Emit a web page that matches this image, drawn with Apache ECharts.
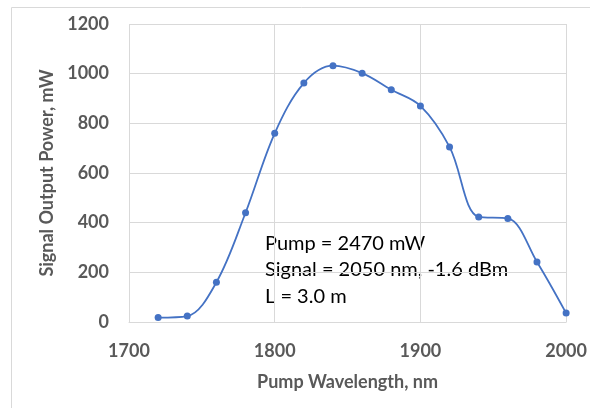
<!DOCTYPE html>
<html>
<head>
<meta charset="utf-8">
<script src="https://cdn.jsdelivr.net/npm/echarts@6/dist/echarts.min.js"></script>
<style>
  html, body { margin: 0; padding: 0; background: #fff; }
  #chart { width: 590px; height: 408px; }
</style>
</head>
<body>
<div id="chart"></div>
<script>
const wavelengths = [1720, 1740, 1760, 1780, 1800, 1820, 1840, 1860, 1880, 1900, 1920, 1940, 1960, 1980, 2000];
const outputPower = [18, 24, 160, 440, 760, 962, 1032, 1002, 935, 870, 705, 423, 417, 242, 36];
const noteLines = ['Pump = 2470 mW', 'Signal = 2050 nm, -1.6 dBm', 'L = 3.0 m'];

const chart = echarts.init(document.getElementById('chart'));
const font = 'Lato, "Open Sans", sans-serif';
const grey = '#595959';

const option = {
  animation: false,
  grid: { left: 129, right: 20, top: 24, bottom: 86 },
  xAxis: {
    type: 'value',
    min: 1700, max: 2000, interval: 100,
    name: 'Pump Wavelength, nm',
    nameLocation: 'middle',
    nameGap: 51,
    nameTextStyle: { fontFamily: font, fontSize: 18, fontWeight: 'bold', color: grey },
    axisLine: { show: true, lineStyle: { color: '#d9d9d9', width: 1 } },
    axisTick: { show: false },
    axisLabel: { margin: 20, fontFamily: font, fontSize: 18, fontWeight: 'bold', color: grey, formatter: v => String(v) },
    splitLine: { show: true, lineStyle: { color: '#d9d9d9', width: 1 } }
  },
  yAxis: {
    type: 'value',
    min: 0, max: 1200, interval: 200,
    name: 'Signal Output Power, mW',
    nameLocation: 'middle',
    nameGap: 73,
    nameTextStyle: { fontFamily: font, fontSize: 18, fontWeight: 'bold', color: grey },
    axisLine: { show: false },
    axisTick: { show: false },
    axisLabel: { margin: 20, fontFamily: font, fontSize: 18, fontWeight: 'bold', color: grey, formatter: v => String(v) },
    splitLine: { show: true, lineStyle: { color: '#d9d9d9', width: 1 } }
  },
  graphic: [
    {
      type: 'rect',
      shape: { x: 11.5, y: 7.5, width: 620, height: 450 },
      style: { fill: 'none', stroke: '#d9d9d9', lineWidth: 1 },
      silent: true
    },
    {
      type: 'text',
      left: 265, top: 230,
      style: {
        text: noteLines.join('\n'),
        fontFamily: font, fontSize: 20, lineHeight: 26.5, fill: '#000'
      }
    }
  ],
  series: [{
    type: 'line',
    data: wavelengths.map((w, i) => [w, outputPower[i]]),
    smooth: 0.35,
    symbol: 'circle',
    symbolSize: 7,
    itemStyle: { color: '#4472C4' },
    lineStyle: { color: '#4472C4', width: 1.8 }
  }]
};

chart.setOption(option);
</script>
</body>
</html>
